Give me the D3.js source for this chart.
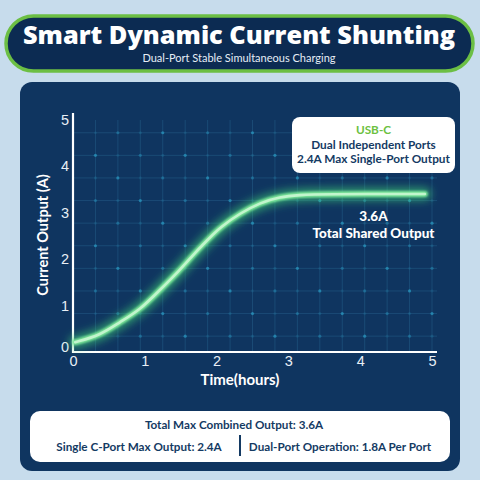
<!DOCTYPE html>
<html>
<head>
<meta charset="utf-8">
<script src="https://cdn.jsdelivr.net/npm/d3@7"></script>
<style>
  body { margin: 0; background: #c7dcec; }
  svg { display: block; }
</style>
</head>
<body>
<div id="chart"></div>
<script>
// data
var timeHours   = [0.03, 0.38, 0.65, 0.93, 1.21, 1.49, 1.67, 1.87, 2.05, 2.33, 2.60, 2.88, 3.16, 3.44, 4.90];
var currentAmps = [0.21, 0.36, 0.64, 0.90, 1.33, 1.76, 2.08, 2.40, 2.68, 2.98, 3.20, 3.33, 3.37, 3.39, 3.39];
var xTicks = [0, 1, 2, 3, 4, 5];
var yTicks = [0, 1, 2, 3, 4, 5];
var calloutLines = ["USB-C", "Dual Independent Ports", "2.4A Max Single-Port Output"];
var sharedLabel = ["3.6A", "Total Shared Output"];
var summaryTop = "Total Max Combined Output: 3.6A";
var summaryBottom = ["Single C-Port Max Output: 2.4A", "Dual-Port Operation: 1.8A Per Port"];

var W = 480, H = 480;
var navy = "#143a63";

var svg = d3.select("#chart")
    .append("svg")
    .attr("width", W)
    .attr("height", H);

svg.append("rect").attr("width", W).attr("height", H).attr("fill", "#c7dcec");

var defs = svg.append("defs");
defs.append("filter").attr("id", "glow")
    .attr("x", "-20%").attr("y", "-50%").attr("width", "140%").attr("height", "200%")
    .append("feGaussianBlur").attr("stdDeviation", 4);
defs.append("filter").attr("id", "soft")
    .attr("x", "-20%").attr("y", "-50%").attr("width", "140%").attr("height", "200%")
    .append("feGaussianBlur").attr("stdDeviation", 1.3);

// title banner
svg.append("rect")
    .attr("x", 6).attr("y", 16).attr("width", 467).attr("height", 55)
    .attr("rx", 27.5)
    .attr("fill", "#0c2b52")
    .attr("stroke", "#6cbf44")
    .attr("stroke-width", 3.5);

svg.append("text")
    .attr("x", 239).attr("y", 44)
    .attr("text-anchor", "middle")
    .attr("textLength", 432)
    .attr("lengthAdjust", "spacingAndGlyphs")
    .style("font-family", "'Open Sans', Lato, sans-serif")
    .style("font-weight", 800)
    .style("font-size", "25px")
    .attr("fill", "#ffffff")
    .text("Smart Dynamic Current Shunting");

svg.append("text")
    .attr("x", 239).attr("y", 62)
    .attr("text-anchor", "middle")
    .style("font-family", "Lato, sans-serif")
    .style("font-size", "11px")
    .attr("fill", "#e6eef6")
    .text("Dual-Port Stable Simultaneous Charging");

// main panel
svg.append("rect")
    .attr("x", 20).attr("y", 82).attr("width", 440).attr("height", 389)
    .attr("rx", 12)
    .attr("fill", "#0f3560");

// scales
var x = d3.scaleLinear().domain([0, 5]).range([73, 432]);
var y = d3.scaleLinear().domain([0, 5]).range([352, 119]);

// background grid
var gridX = d3.range(1, 17).map(function (i) { return i * 0.3125; });
var gridY = d3.range(0, 10).map(function (k) { return 0.34 + k * 0.485; });
var grid = svg.append("g");

grid.selectAll(".gx").data(gridX).enter().append("line")
    .attr("x1", function (d) { return x(d); })
    .attr("x2", function (d) { return x(d); })
    .attr("y1", 120).attr("y2", 352)
    .attr("stroke", "#2a6b96").attr("stroke-opacity", 0.4).attr("stroke-width", 1);

grid.selectAll(".gy").data(gridY).enter().append("line")
    .attr("x1", 73).attr("x2", 437)
    .attr("y1", function (d) { return y(d); })
    .attr("y2", function (d) { return y(d); })
    .attr("stroke", "#2a6b96").attr("stroke-opacity", 0.4).attr("stroke-width", 1);

var dotAlpha = [0.55, 0.15, 0.35, 0.1];
var dots = [];
gridX.forEach(function (gx, i) {
    gridY.forEach(function (gy, k) { dots.push({ gx: gx, gy: gy, a: dotAlpha[(i * 7 + k * 3) % 4] }); });
});
grid.selectAll("circle").data(dots).enter().append("circle")
    .attr("cx", function (d) { return x(d.gx); })
    .attr("cy", function (d) { return y(d.gy); })
    .attr("r", 1.6)
    .attr("fill", "#2fb3da")
    .attr("fill-opacity", function (d) { return d.a; });

// axes lines
svg.append("line").attr("x1", 73).attr("x2", 73).attr("y1", 113).attr("y2", 353)
    .attr("stroke", "#ffffff").attr("stroke-width", 2.2);
svg.append("line").attr("x1", 72).attr("x2", 437).attr("y1", 352).attr("y2", 352)
    .attr("stroke", "#ffffff").attr("stroke-width", 2.2);

// tick labels
var xAxis = svg.append("g")
    .attr("transform", "translate(0,352)")
    .call(d3.axisBottom(x).tickValues(xTicks).tickFormat(d3.format("d")).tickSize(0).tickPadding(4));
var yAxis = svg.append("g")
    .attr("transform", "translate(73,0)")
    .call(d3.axisLeft(y).tickValues(yTicks).tickFormat(d3.format("d")).tickSize(0).tickPadding(4));

[xAxis, yAxis].forEach(function (a) {
    a.select(".domain").remove();
    a.selectAll("text")
        .style("font-family", "'Liberation Sans', Arial, sans-serif")
        .style("font-size", "14.5px")
        .attr("fill", "#e8eff6");
});
yAxis.selectAll("text")
    .attr("text-anchor", "middle")
    .attr("x", -8)
    .attr("dy", function (d) { return d === 0 ? "-0.05em" : "0.35em"; });

// axis titles
svg.append("text")
    .attr("transform", "translate(48,235) rotate(-90)")
    .attr("text-anchor", "middle")
    .style("font-family", "Lato, sans-serif")
    .style("font-weight", 700)
    .style("font-size", "14.5px")
    .attr("fill", "#ffffff")
    .text("Current Output (A)");

svg.append("text")
    .attr("x", 240).attr("y", 385)
    .attr("text-anchor", "middle")
    .style("font-family", "Lato, sans-serif")
    .style("font-weight", 700)
    .style("font-size", "15px")
    .attr("fill", "#ffffff")
    .text("Time(hours)");

// glowing curve
var points = timeHours.map(function (t, i) { return [t, currentAmps[i]]; });
var line = d3.line()
    .x(function (d) { return x(d[0]); })
    .y(function (d) { return y(d[1]); })
    .curve(d3.curveBasis);

var curve = svg.append("g");
curve.append("path").datum(points).attr("d", line)
    .attr("fill", "none").attr("stroke", "#3fd477").attr("stroke-width", 13)
    .attr("stroke-opacity", 0.6).attr("stroke-linecap", "round")
    .attr("filter", "url(#glow)");
curve.append("path").datum(points).attr("d", line)
    .attr("fill", "none").attr("stroke", "#7fe89b").attr("stroke-width", 6)
    .attr("stroke-linecap", "round")
    .attr("filter", "url(#soft)");
curve.append("path").datum(points).attr("d", line)
    .attr("fill", "none").attr("stroke", "#c2f5cd").attr("stroke-width", 2.6)
    .attr("stroke-linecap", "round");

// callout box
svg.append("rect")
    .attr("x", 292).attr("y", 117).attr("width", 163).attr("height", 56)
    .attr("rx", 8).attr("fill", "#ffffff");

svg.selectAll(".callout").data(calloutLines).enter().append("text")
    .attr("class", "callout")
    .attr("x", 373.5)
    .attr("y", function (d, i) { return 134 + i * 14.5; })
    .attr("text-anchor", "middle")
    .style("font-family", "Lato, sans-serif")
    .style("font-weight", 700)
    .style("font-size", "11.8px")
    .attr("fill", function (d, i) { return i === 0 ? "#6cc13f" : navy; })
    .text(function (d) { return d; });

// shared output label
svg.selectAll(".shared").data(sharedLabel).enter().append("text")
    .attr("class", "shared")
    .attr("x", 373.5)
    .attr("y", function (d, i) { return 221 + i * 17; })
    .attr("text-anchor", "middle")
    .style("font-family", "Lato, sans-serif")
    .style("font-weight", 900)
    .style("font-size", "13.5px")
    .attr("fill", "#ffffff")
    .text(function (d) { return d; });

// summary box
svg.append("rect")
    .attr("x", 30).attr("y", 411).attr("width", 420).attr("height", 51)
    .attr("rx", 10).attr("fill", "#ffffff");

var summaryFont = function (sel) {
    sel.attr("text-anchor", "middle")
        .style("font-family", "Lato, sans-serif")
        .style("font-weight", 700)
        .style("font-size", "11.7px")
        .attr("fill", navy);
};

svg.append("text").attr("x", 234).attr("y", 429).call(summaryFont).text(summaryTop);

svg.selectAll(".sumb").data(summaryBottom).enter().append("text")
    .attr("class", "sumb")
    .attr("x", function (d, i) { return i === 0 ? 139 : 340; })
    .attr("y", 451)
    .call(summaryFont)
    .text(function (d) { return d; });

svg.append("line")
    .attr("x1", 240).attr("x2", 240).attr("y1", 435).attr("y2", 456)
    .attr("stroke", navy).attr("stroke-width", 2);
</script>
</body>
</html>
